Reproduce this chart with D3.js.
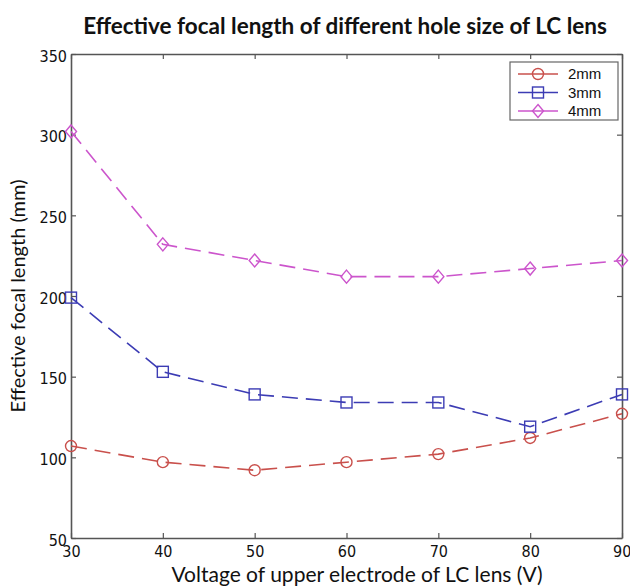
<!DOCTYPE html>
<html>
<head>
<meta charset="utf-8">
<script src="https://cdn.jsdelivr.net/npm/d3@7"></script>
<style>
  body { margin: 0; background: #fff; }
  svg { display: block; }
</style>
</head>
<body>
<svg id="chart" width="630" height="586"></svg>
<script>
// data
var voltages = [30, 40, 50, 60, 70, 80, 90];
var seriesNames = ["2mm", "3mm", "4mm"];
var focal2mm = [107, 97, 92, 97, 102, 112, 127];
var focal3mm = [199, 153, 139, 134, 134, 119, 139];
var focal4mm = [302, 232, 222, 212, 212, 217, 222];
var xTicks = [30, 40, 50, 60, 70, 80, 90];
var yTicks = [50, 100, 150, 200, 250, 300, 350];

var colors = ["#c9504c", "#3c3cb4", "#cc55cc"];
var shapes = ["circle", "square", "diamond"];

var svg = d3.select("#chart");
var margin = {left: 71, right: 8, top: 54, bottom: 48};
var W = 630, H = 586;

var x = d3.scaleLinear().domain([30, 90]).range([margin.left, W - margin.right]);
var y = d3.scaleLinear().domain([50, 350]).range([H - margin.bottom, margin.top]);

var frame = "#555";
var tickFont = "'DejaVu Sans Condensed', 'Liberation Sans Narrow', sans-serif";

// axes, ticks pointing inward like matlab
var gx = svg.append("g").attr("transform", "translate(0," + y(50) + ")")
    .call(d3.axisBottom(x).tickValues(xTicks).tickSizeInner(-5).tickSizeOuter(0).tickPadding(8));
var gxt = svg.append("g").attr("transform", "translate(0," + y(350) + ")")
    .call(d3.axisTop(x).tickValues(xTicks).tickSizeInner(-5).tickSizeOuter(0).tickFormat(""));
var gy = svg.append("g").attr("transform", "translate(" + x(30) + ",0)")
    .call(d3.axisLeft(y).tickValues(yTicks).tickSizeInner(-5).tickSizeOuter(0).tickPadding(4));
var gyr = svg.append("g").attr("transform", "translate(" + x(90) + ",0)")
    .call(d3.axisRight(y).tickValues(yTicks).tickSizeInner(-5).tickSizeOuter(0).tickFormat(""));

[gx, gxt, gy, gyr].forEach(function(g) {
    g.selectAll("path.domain").attr("stroke", frame).attr("stroke-width", 1.6);
    g.selectAll(".tick line").attr("stroke", frame).attr("stroke-width", 1.2);
    g.selectAll("text").attr("font-family", tickFont).attr("font-size", 16)
        .attr("fill", "#111");
});
gy.selectAll("text").attr("dy", "0.45em");
// last x label sits right on the edge, pull it in a touch
gx.selectAll(".tick text").filter(function(d) { return d == 90; })
    .attr("text-anchor", "end").attr("dx", "0.55em");

var allSeries = [focal2mm, focal3mm, focal4mm];

var line = d3.line()
    .x(function(d, i) { return x(voltages[i]); })
    .y(function(d) { return y(d); });

function marker(g, shape, cx, cy, color) {
    if (shape == "circle") {
        g.append("circle").attr("cx", cx).attr("cy", cy).attr("r", 5.5)
            .attr("fill", "none").attr("stroke", color).attr("stroke-width", 1.4);
    } else if (shape == "square") {
        g.append("rect").attr("x", cx - 5.5).attr("y", cy - 5.5)
            .attr("width", 11).attr("height", 11)
            .attr("fill", "none").attr("stroke", color).attr("stroke-width", 1.4);
    } else {
        var s = 6.5;
        g.append("path")
            .attr("d", "M" + cx + "," + (cy - s) + "L" + (cx + s * 0.85) + "," + cy +
                "L" + cx + "," + (cy + s) + "L" + (cx - s * 0.85) + "," + cy + "Z")
            .attr("fill", "none").attr("stroke", color).attr("stroke-width", 1.4);
    }
}

allSeries.forEach(function(vals, k) {
    var g = svg.append("g");
    g.append("path").datum(vals)
        .attr("d", line)
        .attr("fill", "none")
        .attr("stroke", colors[k])
        .attr("stroke-width", 1.6)
        .attr("stroke-dasharray", "16,8");
    vals.forEach(function(v, i) {
        marker(g, shapes[k], x(voltages[i]), y(v), colors[k]);
    });
});

// legend
var lg = svg.append("g").attr("transform", "translate(510,62)");
lg.append("rect").attr("width", 108).attr("height", 58)
    .attr("fill", "#fff").attr("stroke", "#666").attr("stroke-width", 1.2);
seriesNames.forEach(function(name, k) {
    var ly = 12 + k * 18.5;
    lg.append("line").attr("x1", 8).attr("x2", 48).attr("y1", ly).attr("y2", ly)
        .attr("stroke", colors[k]).attr("stroke-width", 1.5);
    marker(lg, shapes[k], 28, ly, colors[k]);
    lg.append("text").attr("x", 58).attr("y", ly).attr("dy", "0.36em")
        .attr("font-family", "'Liberation Sans', Arial, sans-serif")
        .attr("font-size", 15).attr("fill", "#111").text(name);
});

// titles
svg.append("text").attr("x", 345).attr("y", 34).attr("text-anchor", "middle")
    .attr("font-family", "Lato, 'Open Sans', sans-serif").attr("font-weight", "bold")
    .attr("font-size", 22.5).attr("fill", "#111")
    .text("Effective focal length of different hole size of LC lens");

svg.append("text").attr("x", 357).attr("y", 582).attr("text-anchor", "middle")
    .attr("font-family", "Lato, 'Open Sans', sans-serif")
    .attr("font-size", 21).attr("fill", "#111")
    .text("Voltage of upper electrode of LC lens (V)");

svg.append("text")
    .attr("transform", "translate(25," + ((margin.top + H - margin.bottom) / 2) + ") rotate(-90)")
    .attr("text-anchor", "middle")
    .attr("font-family", "Lato, 'Open Sans', sans-serif")
    .attr("font-size", 20).attr("fill", "#111")
    .text("Effective focal length (mm)");
</script>
</body>
</html>
